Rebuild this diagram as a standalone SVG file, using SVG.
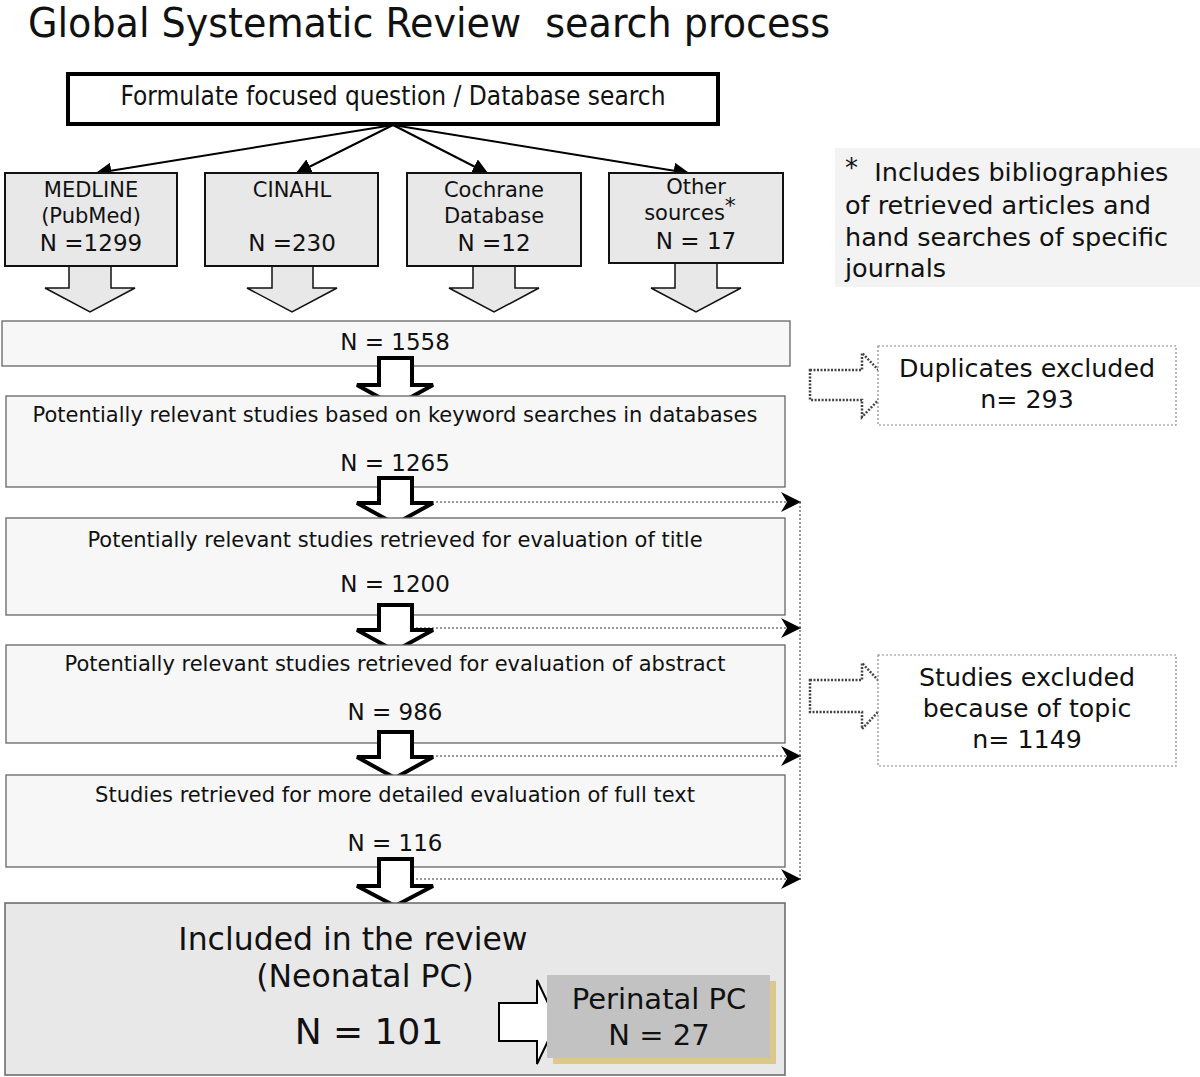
<svg xmlns="http://www.w3.org/2000/svg" width="1200" height="1077" viewBox="0 0 1200 1077">
<defs>
<style>
text{font-family:"DejaVu Sans","Noto Sans",sans-serif;fill:#111;text-anchor:middle}
.title{font-family:"DejaVu Sans Condensed","DejaVu Sans",sans-serif;font-size:40px;text-anchor:start;white-space:pre}
.top{font-family:"DejaVu Sans Condensed","DejaVu Sans",sans-serif;font-size:26px}
.src{fill:#e8e8e8;stroke:#111;stroke-width:2}
.sarr{fill:#e8e8e8;stroke:#111;stroke-width:1.5}
.box{fill:#f7f7f7;stroke:#666;stroke-width:1.3}
.barr{fill:#fff;stroke:#000;stroke-width:4;stroke-linejoin:miter}
.t22{font-size:21px}
.t20{font-size:21px}
.t24{font-size:23px}
.fn{font-size:25.5px;text-anchor:start}
.dbox{fill:#fff;stroke:#888;stroke-width:1.2;stroke-dasharray:2 2}
.darr{fill:#fff;stroke:#444;stroke-width:2.5;stroke-dasharray:2 1.5}
.dline{fill:none;stroke:#333;stroke-width:1;stroke-dasharray:2 2}
</style>
<marker id="ah" viewBox="0 0 10 10" refX="9" refY="5" markerWidth="16" markerHeight="16" markerUnits="userSpaceOnUse" orient="auto">
<path d="M0,0 L10,5 L0,10 Z" fill="#000"/>
</marker>
<marker id="st" viewBox="0 0 20 20" refX="20" refY="10" markerWidth="20" markerHeight="20" markerUnits="userSpaceOnUse" orient="auto">
<path d="M0,0 L20,10 L0,20 L6,10 Z" fill="#000"/>
</marker>
</defs>
<rect width="1200" height="1077" fill="#fff"/>
<text class="title" x="28" y="37" xml:space="preserve" textLength="802" lengthAdjust="spacingAndGlyphs">Global Systematic Review  search process</text>

<g id="formulate">
<rect x="68" y="74" width="650" height="50" fill="#fff" stroke="#000" stroke-width="4"/>
<text class="top" x="393" y="105">Formulate focused question / Database search</text>
</g>

<g id="connectors">
<line x1="393" y1="125" x2="97" y2="173" stroke="#000" stroke-width="2" marker-end="url(#ah)"/>
<line x1="393" y1="125" x2="297" y2="173" stroke="#000" stroke-width="2" marker-end="url(#ah)"/>
<line x1="393" y1="125" x2="487" y2="173" stroke="#000" stroke-width="2" marker-end="url(#ah)"/>
<line x1="393" y1="125" x2="688" y2="173" stroke="#000" stroke-width="2" marker-end="url(#ah)"/>
<path class="sarr" d="M69,266 H111 V288 H135 L90,312 L45,288 H69 Z"/>
<path class="sarr" d="M272,266 H313 V288 H337 L292,312 L247,288 H272 Z"/>
<path class="sarr" d="M473,266 H515 V288 H539 L494,312 L449,288 H473 Z"/>
<path class="sarr" d="M675,263 H717 V288 H741 L696,312 L651,288 H675 Z"/>
<line class="dline" x1="412" y1="502" x2="801" y2="502" marker-end="url(#st)"/>
<line class="dline" x1="412" y1="628" x2="801" y2="628" marker-end="url(#st)"/>
<line class="dline" x1="412" y1="756" x2="801" y2="756" marker-end="url(#st)"/>
<line class="dline" x1="412" y1="879" x2="801" y2="879" marker-end="url(#st)"/>
<line class="dline" x1="800" y1="502" x2="800" y2="879"/>
<path class="darr" d="M810,370 H862 V353 L893,385 L862,417 V400 H810 Z"/>
<path class="darr" d="M810,680 H862 V663 L893,696 L862,729 V712 H810 Z"/>
</g>

<g id="medline">
<rect class="src" x="5" y="173" width="172" height="93"/>
<text class="t22" x="91" y="197">MEDLINE</text>
<text class="t22" x="91" y="223">(PubMed)</text>
<text class="t24" x="91" y="251">N =1299</text>
</g>
<g id="cinahl">
<rect class="src" x="205" y="173" width="173" height="93"/>
<text class="t22" x="292" y="197">CINAHL</text>
<text class="t24" x="292" y="251">N =230</text>
</g>
<g id="cochrane">
<rect class="src" x="407" y="173" width="174" height="93"/>
<text class="t22" x="494" y="197">Cochrane</text>
<text class="t22" x="494" y="223">Database</text>
<text class="t24" x="494" y="251">N =12</text>
</g>
<g id="other">
<rect class="src" x="609" y="173" width="174" height="90"/>
<text class="t22" x="696" y="194">Other</text>
<text class="t22" x="690" y="220">sources<tspan font-size="22" dy="-7">*</tspan></text>
<text class="t24" x="696" y="249">N = 17</text>
</g>

<g id="footnote">
<rect x="835" y="148" width="365" height="139" fill="#f3f3f3"/>
<text class="fn" x="845" y="181" xml:space="preserve"><tspan font-size="26" dy="-4">*</tspan><tspan dy="4">  Includes bibliographies</tspan></text>
<text class="fn" x="845" y="214">of retrieved articles and</text>
<text class="fn" x="845" y="246">hand searches of specific</text>
<text class="fn" x="845" y="277">journals</text>
</g>

<g id="n1558">
<rect class="box" x="2" y="321" width="788" height="45"/>
<text class="t24" x="395" y="350">N = 1558</text>
</g>
<g id="arrow1"><path class="barr" d="M379,358 H412 V385 H433 L395,406 L357,385 H379 Z"/></g>

<g id="keyword">
<rect class="box" x="6" y="396" width="779" height="91"/>
<text class="t20" x="395" y="422">Potentially relevant studies based on keyword searches in databases</text>
<text class="t24" x="395" y="471">N = 1265</text>
</g>
<g id="arrow2"><path class="barr" d="M379,478 H412 V503 H433 L395,524 L357,503 H379 Z"/></g>

<g id="title-eval">
<rect class="box" x="6" y="518" width="779" height="97"/>
<text class="t20" x="395" y="547">Potentially relevant studies retrieved for evaluation of title</text>
<text class="t24" x="395" y="592">N = 1200</text>
</g>
<g id="arrow3"><path class="barr" d="M379,605 H412 V630 H433 L395,651 L357,630 H379 Z"/></g>

<g id="abstract-eval">
<rect class="box" x="6" y="645" width="779" height="98"/>
<text class="t20" x="395" y="671">Potentially relevant studies retrieved for evaluation of abstract</text>
<text class="t24" x="395" y="720">N = 986</text>
</g>
<g id="arrow4"><path class="barr" d="M379,732 H412 V757 H433 L395,778 L357,757 H379 Z"/></g>

<g id="fulltext">
<rect class="box" x="6" y="775" width="779" height="92"/>
<text class="t20" x="395" y="802">Studies retrieved for more detailed evaluation of full text</text>
<text class="t24" x="395" y="851">N = 116</text>
</g>
<g id="arrow5"><path class="barr" d="M379,859 H412 V886 H433 L395,906 L357,886 H379 Z"/></g>

<g id="included">
<rect x="5" y="903" width="780" height="172" fill="#e8e8e8" stroke="#666" stroke-width="1.5"/>
<text x="353" y="950" font-size="31.5">Included in the review</text>
<text x="365" y="987" font-size="31.5">(Neonatal PC)</text>
<text x="369" y="1044" font-size="36">N = 101</text>
</g>

<g id="arrow-perinatal"><path fill="#fff" stroke="#000" stroke-width="2" d="M499,1003 H537 V980 L557,1022 L537,1064 V1041 H499 Z"/></g>

<g id="perinatal">
<rect x="553" y="981" width="223" height="83" fill="#dcc88a"/>
<rect x="547" y="975" width="223" height="83" fill="#c2c2c2"/>
<text x="659" y="1009" font-size="29">Perinatal PC</text>
<text x="659" y="1045" font-size="29">N = 27</text>
</g>

<g id="duplicates">
<rect class="dbox" x="878" y="346" width="298" height="79"/>
<text x="1027" y="377" font-size="25.3">Duplicates excluded</text>
<text x="1027" y="408" font-size="25.3">n= 293</text>
</g>

<g id="topic">
<rect class="dbox" x="878" y="655" width="298" height="111"/>
<text x="1027" y="686" font-size="25.3">Studies excluded</text>
<text x="1027" y="717" font-size="25.3">because of topic</text>
<text x="1027" y="748" font-size="25.3">n= 1149</text>
</g>
</svg>
